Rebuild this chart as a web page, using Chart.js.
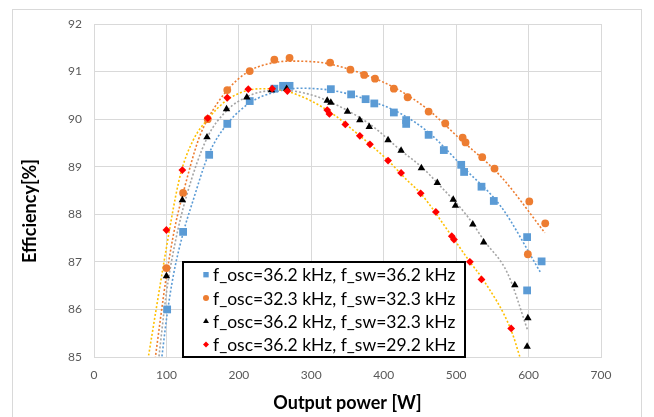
<!DOCTYPE html>
<html>
<head>
<meta charset="utf-8">
<title>Efficiency vs output power</title>
<script src="https://cdn.jsdelivr.net/npm/chart.js@4.4.1/dist/chart.umd.min.js"></script>
<style>
    html, body { margin: 0; padding: 0; background: #fff; }
    #wrap { position: relative; width: 654px; height: 417px; overflow: hidden; }
    #frame { position: absolute; left: 12px; top: 9px; width: 630px; height: 440px; border: 1px solid #d9d9d9; box-sizing: border-box; }
    #chart { position: absolute; left: 0; top: 0; }
</style>
</head>
<body>
<div id="wrap">
    <div id="frame"></div>
    <canvas id="chart" width="654" height="417"></canvas>
</div>
<script>
// Efficiency [%] vs output power [W], four oscillator / switching frequency pairs

const xTicks = [0, 100, 200, 300, 400, 500, 600, 700];
const yTicks = [85, 86, 87, 88, 89, 90, 91, 92];
const xTitle = 'Output power [W]';
const yTitle = 'Efficiency[%]';

const seriesNames = [
    'f_osc=36.2 kHz, f_sw=36.2 kHz',
    'f_osc=32.3 kHz, f_sw=32.3 kHz',
    'f_osc=36.2 kHz, f_sw=32.3 kHz',
    'f_osc=36.2 kHz, f_sw=29.2 kHz'
];

// measured points
const blueX = [101, 123, 159, 184, 215, 249, 261, 270, 327, 355, 375, 387, 414, 431, 431, 462, 483, 507, 511, 535, 552, 598, 598, 618];
const blueY = [86.00, 87.63, 89.25, 89.90, 90.38, 90.64, 90.70, 90.70, 90.63, 90.52, 90.42, 90.33, 90.14, 89.98, 89.90, 89.67, 89.35, 89.04, 88.89, 88.58, 88.28, 87.52, 86.40, 87.01];

const orangeX = [100, 123, 157, 184, 215, 249, 270, 326, 354, 373, 388, 414, 433, 462, 485, 509, 513, 536, 553, 599, 601, 623];
const orangeY = [86.87, 88.45, 90.00, 90.61, 91.01, 91.25, 91.29, 91.19, 91.04, 90.93, 90.85, 90.64, 90.46, 90.16, 89.91, 89.61, 89.51, 89.20, 88.96, 87.16, 88.27, 87.81];

const blackX = [100, 122, 156, 183, 211, 245, 266, 322, 327, 350, 367, 380, 406, 424, 452, 474, 496, 499, 523, 538, 581, 599, 598];
const blackY = [86.70, 88.30, 89.62, 90.21, 90.46, 90.61, 90.64, 90.39, 90.35, 90.16, 89.98, 89.84, 89.56, 89.34, 88.97, 88.66, 88.31, 88.18, 87.79, 87.41, 86.51, 85.82, 85.22];

const redX = [100, 122, 157, 184, 213, 246, 267, 322, 325, 347, 367, 381, 406, 424, 451, 472, 494, 497, 519, 535, 576];
const redY = [87.67, 88.93, 90.02, 90.45, 90.63, 90.64, 90.59, 90.19, 90.11, 89.89, 89.65, 89.47, 89.13, 88.87, 88.44, 88.05, 87.54, 87.47, 87.00, 86.63, 85.60];

// dotted trendlines
const blueTrendX = [92.5, 101, 110, 123, 137, 158, 184, 216, 250, 285, 330, 375, 423, 462, 511, 562, 616];
const blueTrendY = [84.85, 85.9, 86.75, 87.6, 88.3, 89.25, 89.9, 90.35, 90.57, 90.65, 90.6, 90.42, 90.12, 89.72, 88.97, 88.16, 86.79];

const orangeTrendX = [83, 100, 112, 124, 144, 157, 184, 213, 240, 270, 300, 325, 375, 420, 462, 502, 562, 622.5];
const orangeTrendY = [84.8, 86.7, 87.75, 88.5, 89.56, 90.0, 90.61, 91.0, 91.16, 91.22, 91.21, 91.16, 90.93, 90.62, 90.19, 89.63, 88.79, 87.61];

const blackTrendX = [88.5, 100, 112, 128, 156, 184, 211, 230, 257, 290, 322, 382, 423, 452, 474, 516, 538, 571, 599];
const blackTrendY = [84.85, 86.35, 87.4, 88.4, 89.6, 90.19, 90.47, 90.57, 90.61, 90.55, 90.39, 89.88, 89.35, 89.0, 88.66, 87.95, 87.46, 86.76, 85.55];

const redTrendX = [74.5, 100, 113, 121, 137, 157, 183.5, 211, 235, 266, 322, 367, 406, 432, 451, 494, 519, 538, 575, 588, 592];
const redTrendY = [84.95, 87.3, 88.4, 88.93, 89.56, 90.0, 90.40, 90.60, 90.64, 90.59, 90.19, 89.65, 89.13, 88.72, 88.44, 87.54, 87.0, 86.61, 85.6, 85.0, 84.8];

const FONT = 'Lato, "Liberation Sans", sans-serif';

function pairs(xs, ys) {
    return xs.map((x, i) => ({ x: x, y: ys[i] }));
}

const markers = [
    { name: seriesNames[0], color: '#5b9bd5', style: 'rect', radius: 5.5, legendRadius: 3.8 },
    { name: seriesNames[1], color: '#ed7d31', style: 'circle', radius: 3.9, legendRadius: 3 },
    { name: seriesNames[2], color: '#000000', style: 'triangle', radius: 4.3, legendRadius: 3.4 },
    { name: seriesNames[3], color: '#ff0000', style: 'rectRot', radius: 3.9, legendRadius: 3 }
];

function pointSet(m, data, order) {
    return {
        label: m.name,
        data: data,
        showLine: false,
        pointStyle: m.style,
        pointRadius: m.radius,
        pointBackgroundColor: m.color,
        pointBorderColor: m.color,
        pointBorderWidth: 0,
        order: order
    };
}

function trendSet(color, data, order) {
    return {
        label: 'trend',
        data: data,
        showLine: true,
        borderColor: color,
        borderWidth: 1.6,
        borderDash: [2, 2],
        pointRadius: 0,
        cubicInterpolationMode: 'monotone',
        order: order
    };
}

// legend box + axis titles
const overlay = {
    id: 'overlay',
    afterDraw(chart) {
        const ctx = chart.ctx;
        const area = chart.chartArea;
        ctx.save();

        ctx.fillStyle = '#000';
        ctx.font = 'bold 18px ' + FONT;
        ctx.textAlign = 'center';
        ctx.textBaseline = 'middle';
        ctx.fillText(xTitle, (area.left + area.right) / 2, 403);
        ctx.save();
        ctx.translate(30, 211);
        ctx.rotate(-Math.PI / 2);
        ctx.fillText(yTitle, 0, 0);
        ctx.restore();

        // legend
        const box = { x: 183, y: 262, w: 282, h: 95 };
        ctx.fillStyle = '#fff';
        ctx.fillRect(box.x, box.y, box.w, box.h);
        ctx.lineWidth = 2;
        ctx.strokeStyle = '#000';
        ctx.strokeRect(box.x, box.y, box.w, box.h);

        ctx.font = '17.5px ' + FONT;
        ctx.textAlign = 'left';
        markers.forEach((m, i) => {
            const cy = box.y + 12.7 + i * 23.3;
            ctx.fillStyle = m.color;
            ctx.strokeStyle = m.color;
            Chart.helpers.drawPoint(ctx, { pointStyle: m.style, radius: m.legendRadius, borderWidth: 0 }, 206, cy);
            ctx.fillStyle = '#000';
            ctx.fillText(m.name, 213, cy + 1);
        });
        ctx.restore();
    }
};

const chart = new Chart(document.getElementById('chart'), {
    type: 'scatter',
    data: {
        datasets: [
            pointSet(markers[3], pairs(redX, redY), 0),
            pointSet(markers[2], pairs(blackX, blackY), 1),
            pointSet(markers[1], pairs(orangeX, orangeY), 2),
            pointSet(markers[0], pairs(blueX, blueY), 3),
            trendSet('#ffc000', pairs(redTrendX, redTrendY), 4),
            trendSet('#a5a5a5', pairs(blackTrendX, blackTrendY), 5),
            trendSet('#ed7d31', pairs(orangeTrendX, orangeTrendY), 6),
            trendSet('#5b9bd5', pairs(blueTrendX, blueTrendY), 7)
        ]
    },
    options: {
        responsive: false,
        animation: false,
        events: [],
        layout: { padding: { top: 24, right: 53, left: 0, bottom: 0 } },
        plugins: {
            legend: { display: false },
            tooltip: { enabled: false }
        },
        scales: {
            x: {
                type: 'linear',
                min: 0,
                max: 700,
                afterFit: scale => { scale.height = 60; },
                afterBuildTicks: scale => { scale.ticks = xTicks.map(v => ({ value: v })); },
                grid: { color: '#d9d9d9', drawTicks: false },
                border: { color: '#d9d9d9' },
                ticks: { color: '#595959', padding: 11, font: { family: FONT, size: 12 } }
            },
            y: {
                type: 'linear',
                min: 85,
                max: 92,
                afterFit: scale => { scale.width = 94; },
                afterBuildTicks: scale => { scale.ticks = yTicks.map(v => ({ value: v })); },
                grid: { color: '#d9d9d9', drawTicks: false },
                border: { color: '#d9d9d9' },
                ticks: { color: '#595959', padding: 12, font: { family: FONT, size: 12 } }
            }
        }
    },
    plugins: [overlay]
});
</script>
</body>
</html>
